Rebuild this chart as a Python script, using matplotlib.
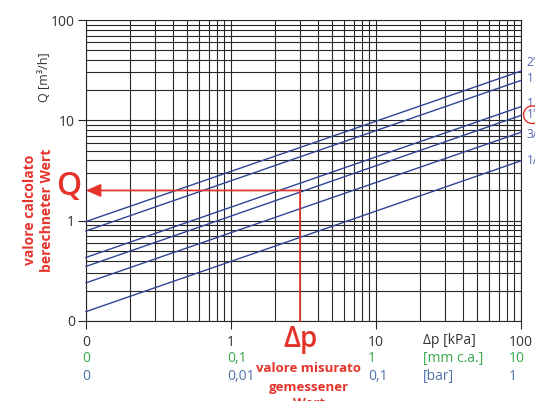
import matplotlib
matplotlib.use("Agg")
import matplotlib.pyplot as plt
from matplotlib.transforms import IdentityTransform
from matplotlib.ticker import NullFormatter

plt.rcParams['font.family'] = ['Open Sans', 'DejaVu Sans']

# flow at both ends of the pressure range, one per valve size
dp_ends = [0.1, 100]
sizes = ['2"', '1 1/2"', '1 1/4"', '1"', '3/4"', '1/2"']
q_low = [0.98, 0.79, 0.43, 0.35, 0.24, 0.124]
q_high = [31, 25, 13.7, 11.2, 7.6, 3.95]

x_ticks = [0.1, 1, 10, 100]
x_lab_kpa = ['0', '1', '10', '100']
x_lab_mm = ['0', '0,1', '1', '10']
x_lab_bar = ['0', '0,01', '0,1', '1']
y_ticks = [0.1, 1, 10, 100]
y_lab = ['0', '1', '10', '100']

# worked example
dp_read = 3
q_read = 2

RED = '#e5332a'
LINEBLUE = '#2f4496'
LABBLUE = '#5565b0'
GREEN = '#35a94a'
BARBLUE = '#4f72a8'
DARK = '#333333'

W, H = 535, 401
fig = plt.figure(figsize=(W / 100, H / 100), dpi=100)
ax = fig.add_axes([86 / W, 1 - 321 / H, 435 / W, 301 / H])
ax.set_xscale('log')
ax.set_yscale('log')
ax.set_xlim(0.1, 100)
ax.set_ylim(0.1, 100)

ax.grid(True, which='both', color='#262626', lw=0.8)
ax.set_axisbelow(True)
for s in ax.spines.values():
    s.set_color('#262626')
    s.set_linewidth(0.8)

ax.set_xticks(x_ticks, labels=x_lab_kpa)
ax.set_yticks(y_ticks, labels=y_lab)
ax.xaxis.set_minor_formatter(NullFormatter())
ax.yaxis.set_minor_formatter(NullFormatter())
ax.tick_params(which='minor', length=0)
ax.tick_params(which='major', length=6, width=0.8, color='#262626',
               labelsize=10, labelcolor=DARK)
ax.tick_params(axis='x', pad=4)
ax.tick_params(axis='y', pad=2)

# valve size lines
label_dy = [6, 1.5, 2.5, 0.5, -1.5, 0]
for name, ql, qh, dy in zip(sizes, q_low, q_high, label_dy):
    ax.plot(dp_ends, [ql, qh], color=LINEBLUE, lw=1.0, clip_on=False, zorder=3)
    kw = {}
    if name == '1"':
        kw['bbox'] = dict(boxstyle='circle,pad=0.2', fc='none', ec=RED, lw=1.0)
    ax.annotate(name, xy=(dp_ends[1], qh), xytext=(4, dy), textcoords='offset points',
                ha='left', va='center', fontsize=8.5, color=LABBLUE, annotation_clip=False, **kw)

# example reading lines
ax.plot([dp_read, dp_read], [q_read, 0.1], color=RED, lw=1.2, zorder=4, clip_on=False)
ax.annotate('', xy=(0.1, q_read), xytext=(dp_read, q_read),
            arrowprops=dict(arrowstyle='-|>,head_length=0.9,head_width=0.4', color=RED,
                            lw=1.2, shrinkA=0, shrinkB=0, mutation_scale=10),
            annotation_clip=False, zorder=4)

fig.text(45 / W, 1 - 77 / H, 'Q [m³/h]', rotation=90, ha='center', va='center',
         fontsize=9, color=DARK)

fig.text(69 / W, 1 - 187 / H, 'Q', ha='center', va='center', fontsize=23,
         fontweight='semibold', color=RED)
fig.text(30 / W, 1 - 210 / H, 'valore calcolato', rotation=90, ha='center', va='center',
         fontsize=10, fontweight='bold', color=RED)
fig.text(47 / W, 1 - 210 / H, 'berechneter Wert', rotation=90, ha='center', va='center',
         fontsize=10, fontweight='bold', color=RED)

fig.text(301 / W, 1 - 339 / H, 'Δp', ha='center', va='center', fontsize=20,
         fontweight='semibold', color=RED)
for txt, yy in zip(['valore misurato', 'gemessener', 'Wert'], [368.5, 387.5, 403.5]):
    fig.text(309 / W, 1 - yy / H, txt, ha='center', va='center',
             fontsize=9.5, fontweight='bold', color=RED)

# unit rows under the x axis
fig.canvas.draw()
rend = fig.canvas.get_renderer()
row_y = [H - 340.7, H - 358.5, H - 376.5]
for tl, mm, bar in zip(ax.get_xticklabels(), x_lab_mm, x_lab_bar):
    x0 = tl.get_window_extent(rend).x0
    fig.text(x0, row_y[1], mm, transform=IdentityTransform(), ha='left', va='center',
             fontsize=10, color=GREEN)
    fig.text(x0, row_y[2], bar, transform=IdentityTransform(), ha='left', va='center',
             fontsize=10, color=BARBLUE)

fig.text(423, row_y[0], 'Δp [kPa]', transform=IdentityTransform(), ha='left', va='center',
         fontsize=10, color=DARK)
fig.text(423, row_y[1], '[mm c.a.]', transform=IdentityTransform(), ha='left', va='center',
         fontsize=10, color=GREEN)
fig.text(423, row_y[2], '[bar]', transform=IdentityTransform(), ha='left', va='center',
         fontsize=10, color=BARBLUE)

fig.savefig('out.png', dpi=100)
